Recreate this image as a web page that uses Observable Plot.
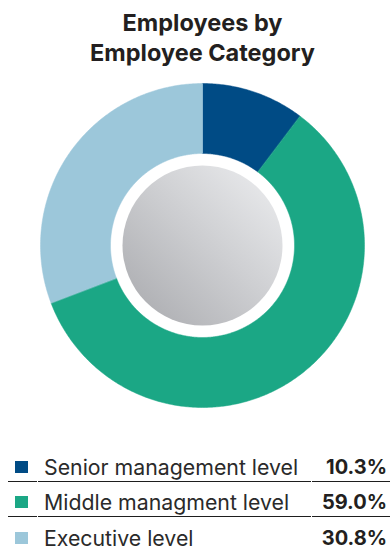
<!DOCTYPE html>
<html>
<head>
<meta charset="utf-8">
<script src="https://cdn.jsdelivr.net/npm/d3@7"></script>
<script src="https://cdn.jsdelivr.net/npm/@observablehq/plot@0.6"></script>
<style>
  html, body { margin: 0; padding: 0; background: #fff; }
  body { width: 390px; height: 551px; position: relative; overflow: hidden; font-family: Inter, "Noto Sans", sans-serif; color: #231f20; }
  #title { position: absolute; left: 0; top: 8px; width: 405px; text-align: center; font-weight: 700; font-size: 23.5px; line-height: 30px; }
  #chart { position: absolute; left: 0; top: 75px; }
  #legend { position: absolute; left: 8px; top: 446px; width: 382px; }
  #legend .row { display: flex; gap: 1px; height: 35.5px; }
  #legend .cell { box-sizing: border-box; height: 100%; padding-top: 7px; display: flex; align-items: center; white-space: nowrap; }
  #legend .row:not(:last-child) .cell { border-bottom: 1.5px solid #1e1e1e; }
  #legend .sw { width: 29px; }
  #legend .sw span { display: block; width: 13px; height: 12px; margin-left: 7px; }
  #legend .lab { width: 273px; padding-left: 6px; font-size: 21.3px; color: #2a2a2a; }
  #legend .val { flex: 1; justify-content: flex-end; padding-right: 3px; font-weight: 700; font-size: 20px; color: #231f20; }
</style>
</head>
<body>
<div id="title">Employees by<br>Employee Category</div>
<div id="chart"></div>
<div id="legend"></div>
<script>
// Share of employees by category (percent)
const categories = ["Senior management level", "Middle managment level", "Executive level"];
const shares = [10.3, 59.0, 30.8];
const colors = ["#004b85", "#1ba785", "#9cc7da"];

// Donut ring geometry, in pixels (1 data unit = 1 px)
const outerR = 162, innerR = 92, coreR = 80;

// Angles of each slice, clockwise from 12 o'clock
const pie = d3.pie().sort(null).value(d => d.share);
const arcs = pie(categories.map((c, i) => ({category: c, share: shares[i]})));

// Trace each slice as a closed outline: outer arc forward, inner arc back
const outline = arcs.flatMap(a => {
  const n = Math.max(8, Math.ceil((a.endAngle - a.startAngle) / 0.01));
  const pts = [];
  for (let k = 0; k <= n; ++k) {
    const t = a.startAngle + (a.endAngle - a.startAngle) * k / n;
    pts.push({category: a.data.category, x: outerR * Math.sin(t), y: outerR * Math.cos(t)});
  }
  for (let k = n; k >= 0; --k) {
    const t = a.startAngle + (a.endAngle - a.startAngle) * k / n;
    pts.push({category: a.data.category, x: innerR * Math.sin(t), y: innerR * Math.cos(t)});
  }
  return pts;
});

const chart = Plot.plot({
  width: 390,
  height: 340,
  margin: 0,
  x: {domain: [-202, 188], axis: null},
  y: {domain: [-170, 170], axis: null},
  color: {domain: categories, range: colors},
  marks: [
    Plot.line(outline, {x: "x", y: "y", z: "category", fill: "category", stroke: "category", strokeWidth: 0.5, curve: "linear-closed"}),
    Plot.dot([{x: 0, y: 0}], {x: "x", y: "y", r: coreR, fill: "url(#core-grad)", stroke: "none"})
  ]
});

// Soft metallic gradient for the centre disc
const svg = d3.select(chart);
const grad = svg.insert("defs", ":first-child").append("linearGradient")
  .attr("id", "core-grad").attr("x1", "0%").attr("y1", "100%").attr("x2", "100%").attr("y2", "0%");
grad.append("stop").attr("offset", "0%").attr("stop-color", "#a7a8ac");
grad.append("stop").attr("offset", "55%").attr("stop-color", "#cfd0d3");
grad.append("stop").attr("offset", "100%").attr("stop-color", "#eeeff1");

document.getElementById("chart").appendChild(chart);

// Legend rows: swatch, category name, share
const rows = d3.select("#legend").selectAll("div.row").data(categories).join("div").attr("class", "row");
rows.append("div").attr("class", "cell sw").append("span").style("background", (d, i) => colors[i]);
rows.append("div").attr("class", "cell lab").text(d => d);
rows.append("div").attr("class", "cell val").text((d, i) => shares[i].toFixed(1) + "%");
</script>
</body>
</html>
